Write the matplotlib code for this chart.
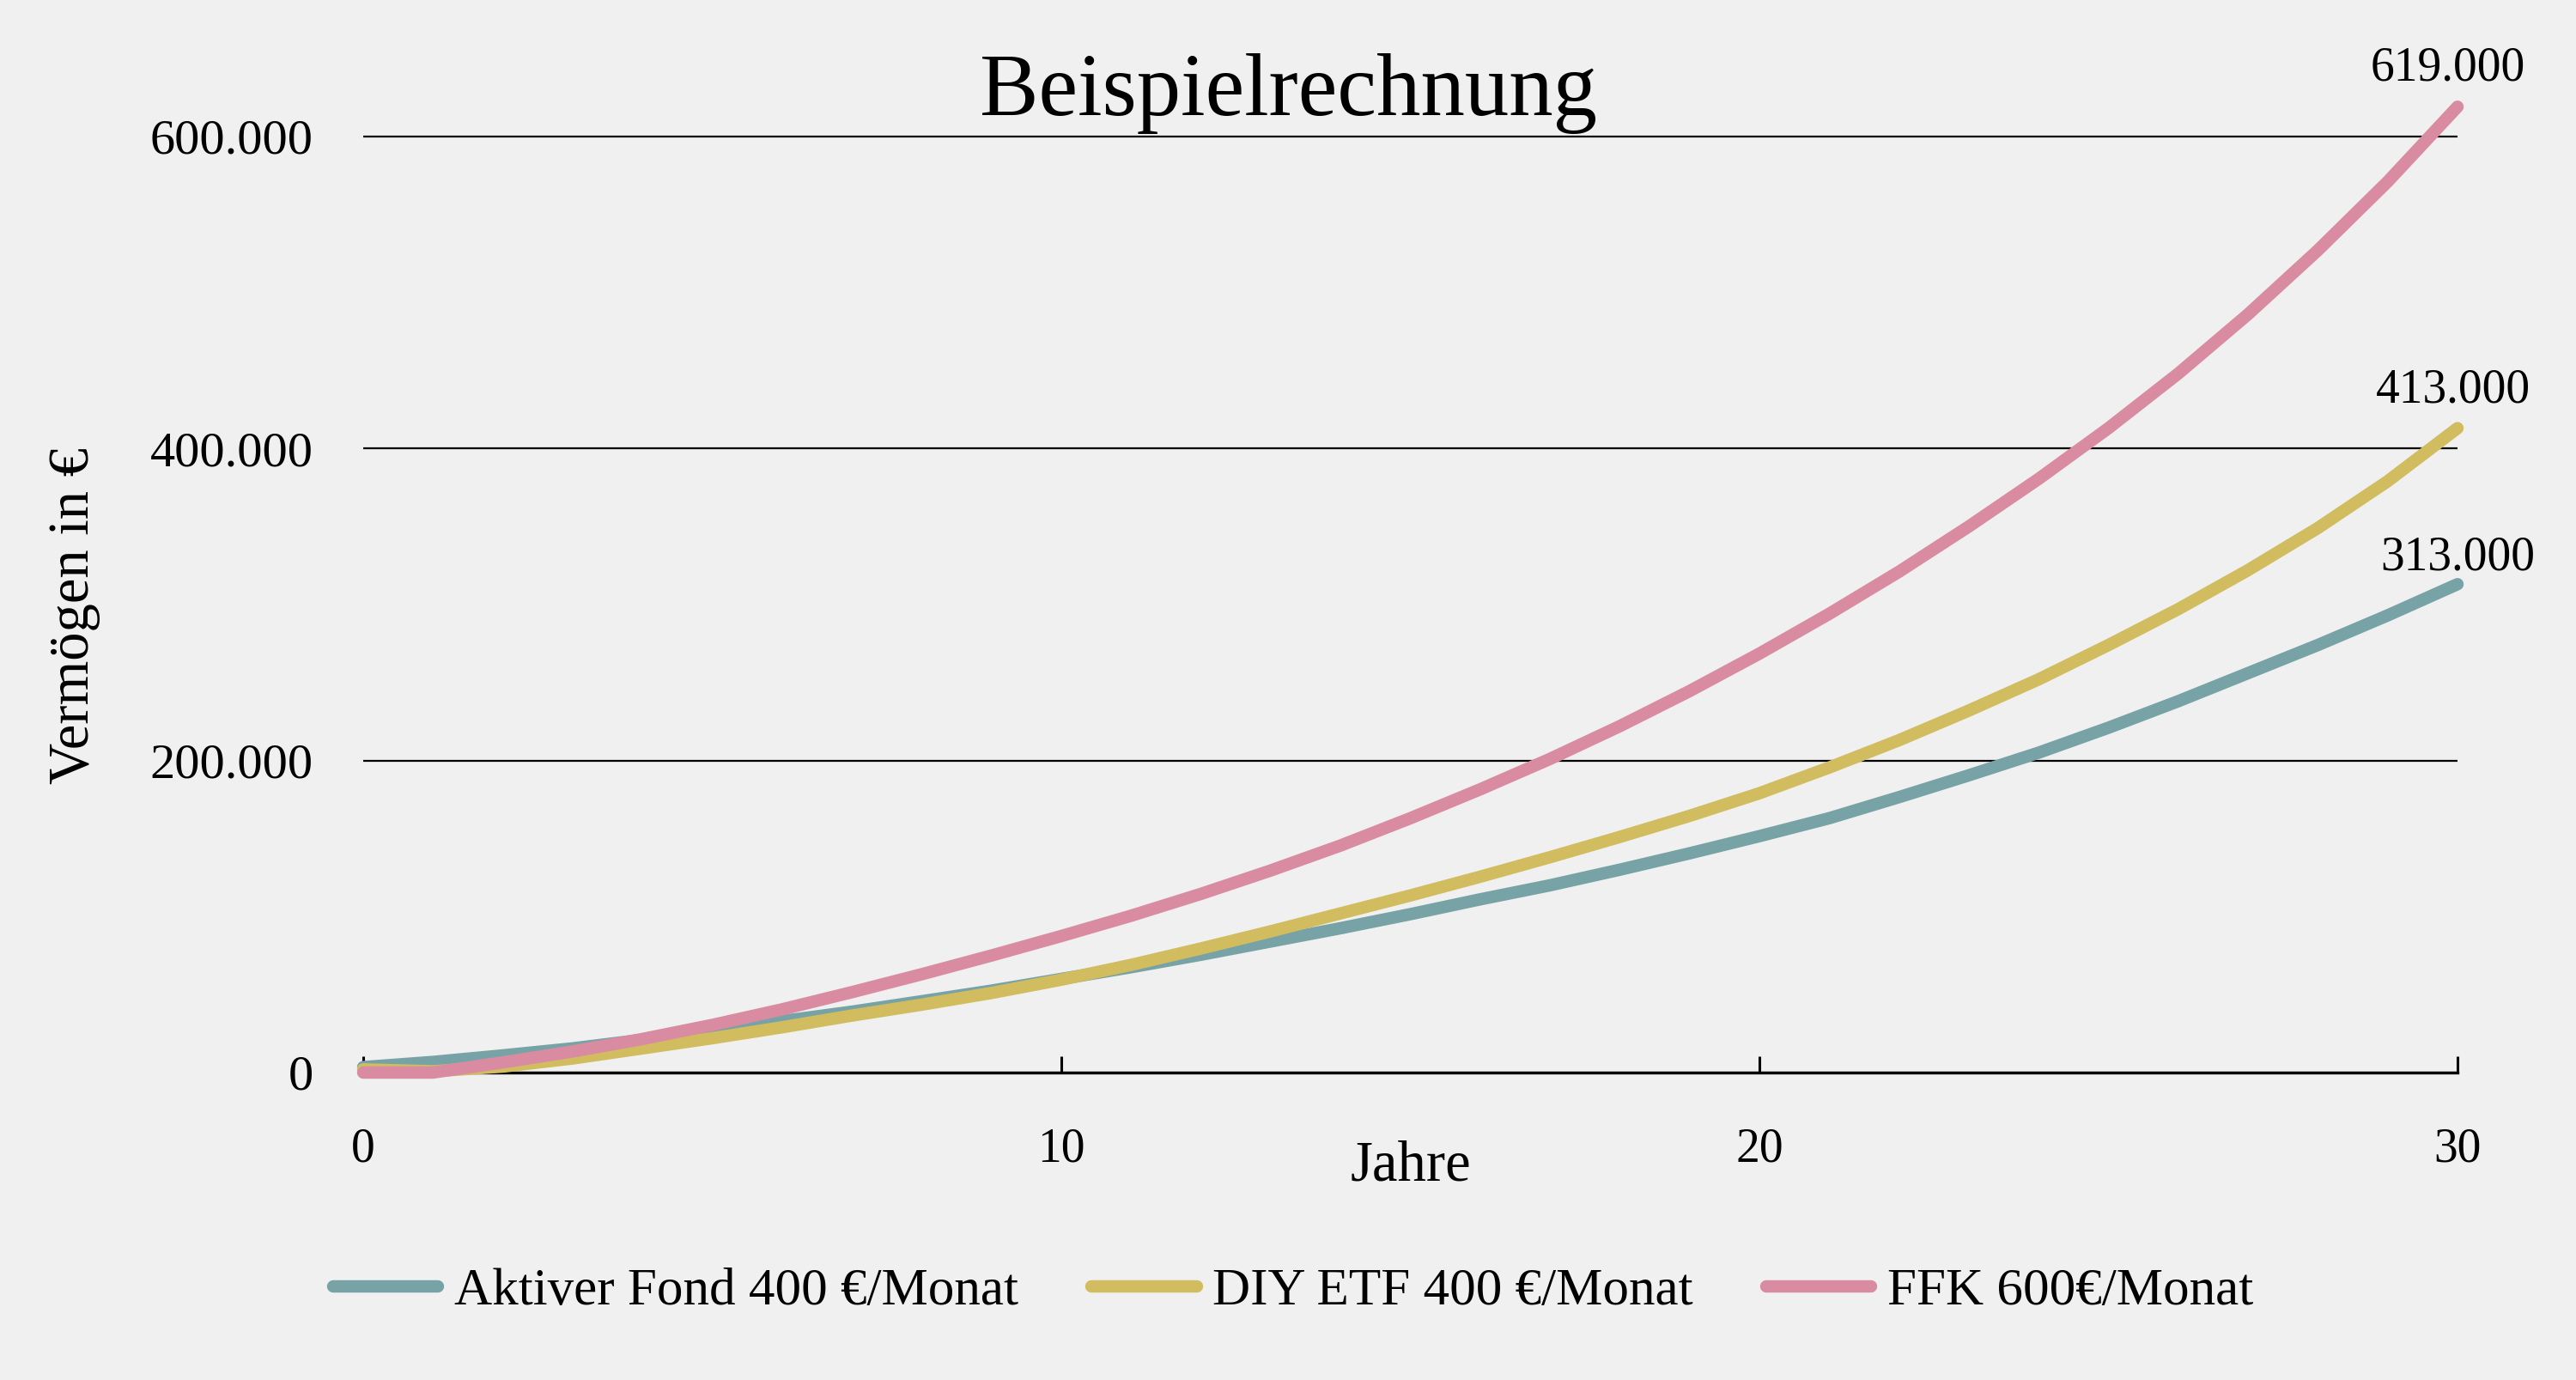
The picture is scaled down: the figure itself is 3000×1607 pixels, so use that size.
import numpy as np
import matplotlib
matplotlib.use("Agg")
import matplotlib.pyplot as plt
from matplotlib.ticker import FuncFormatter

years = list(range(31))
aktiver_fond = [3.5, 6.8, 11, 15.5, 21, 27, 33, 39, 45.7, 52.5, 60,
                67.5, 75.5, 84, 92.5, 101.5, 111, 120, 130, 140.5, 151.5,
                163, 176.5, 190.5, 205, 221, 238, 256, 274, 293, 313]
diy_etf = [2, 0.8, 3.8, 9, 15.5, 22, 29, 36.5, 43.5, 51, 59.5,
           69, 79.5, 90.5, 102, 113.5, 125.5, 138, 151, 164.5, 179,
           195.5, 213, 232, 252, 274, 297, 322, 349, 379, 413]
ffk = [0, 0, 6.5, 13.5, 21.5, 30.5, 40.5, 51.5, 63, 75, 87.5,
       100.5, 114.5, 129.5, 145.5, 163, 181.5, 201, 222, 244.5, 268.5,
       294, 321, 350, 380.5, 413, 448, 486, 527, 571, 619]

labels = ["Aktiver Fond 400 €/Monat", "DIY ETF 400 €/Monat", "FFK 600€/Monat"]
colors = ["#78a3a6", "#d1bd5f", "#d98ca1"]
end_offsets = [(0, 6), (-2, 11), (-4, 11)]  # Punkte, fuer die Endwert-Beschriftung

bg = "#f0f0f0"
plt.rcParams["font.family"] = ["Liberation Serif", "DejaVu Serif"]


def de_format(v, pos=None):
    return f"{int(round(v)):,}".replace(",", ".")


fig = plt.figure(figsize=(15, 8.035), dpi=200, facecolor=bg)
ax = fig.add_axes([0.141, 0.2228, 0.813, 0.6795], facecolor=bg)

series = [aktiver_fond, diy_etf, ffk]
for vals, lab, col, off in zip(series, labels, colors, end_offsets):
    y = np.array(vals) * 1000
    ax.plot(years, y, color=col, lw=5.2, label=lab, solid_capstyle="round",
            solid_joinstyle="round", clip_on=False, zorder=3)
    ax.annotate(de_format(y[-1]), xy=(years[-1], y[-1]), xytext=off,
                textcoords="offset points", ha="center", va="baseline",
                fontsize=20, annotation_clip=False)

ax.set_xlim(0, 30)
ax.set_ylim(0, 601000)
ax.set_xticks([0, 10, 20, 30])
ax.set_yticks([0, 200000, 400000, 600000])
ax.yaxis.set_major_formatter(FuncFormatter(de_format))
ax.grid(axis="y", color="black", lw=0.8, zorder=1)

for s in ["top", "right", "left"]:
    ax.spines[s].set_visible(False)
ax.spines["bottom"].set_linewidth(1.2)
ax.tick_params(axis="x", direction="in", length=7, width=1.1,
               pad=23, labelsize=20)
ax.tick_params(axis="y", length=0, pad=21, labelsize=21)

ax.text(0.5, -0.1, "Jahre", transform=ax.transAxes, ha="center",
        va="center", fontsize=24)
ax.text(-0.138, 0.487, "Vermögen in €", transform=ax.transAxes,
        ha="center", va="center", rotation=90, fontsize=24)

fig.text(0.5, 0.932, "Beispielrechnung", ha="center", va="center",
         fontsize=37)

fig.legend(loc="center", bbox_to_anchor=(0.502, 0.064), ncol=3,
           frameon=False, fontsize=22, handlelength=2.0, handletextpad=0.3,
           columnspacing=1.4)

fig.savefig("out.png", dpi=200, facecolor=bg)
